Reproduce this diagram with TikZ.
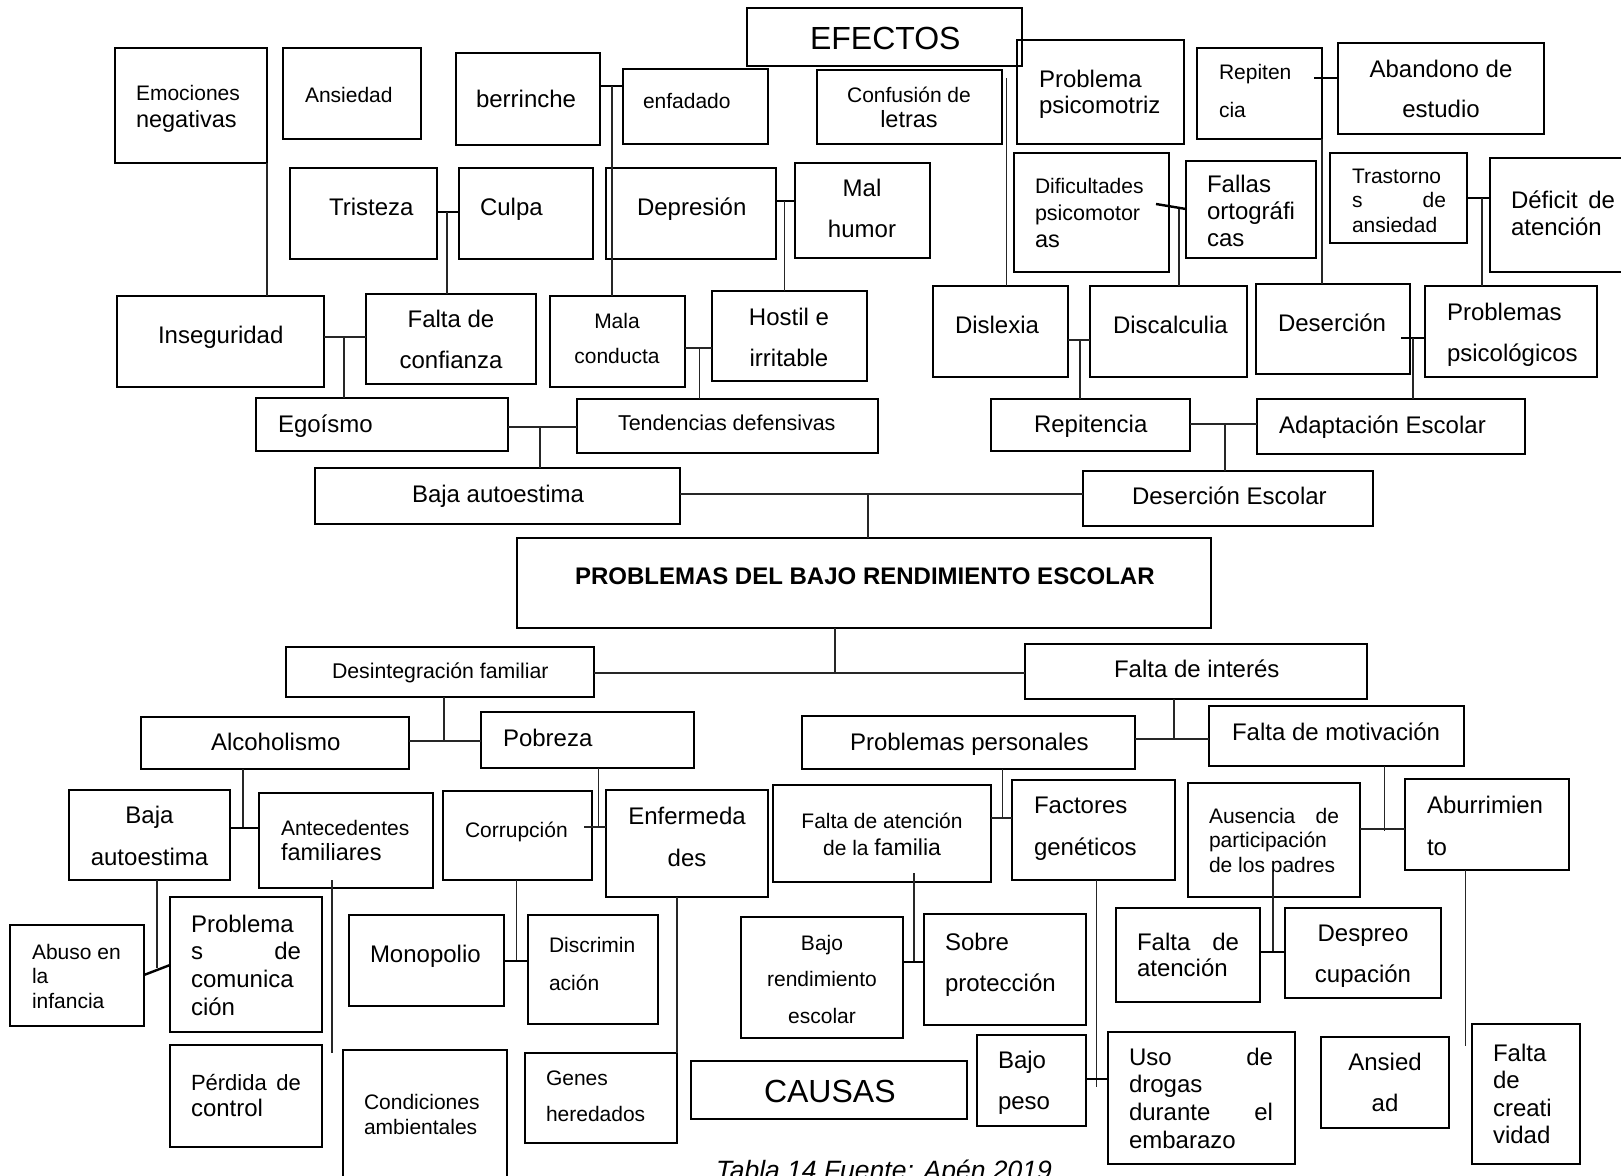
\documentclass[tikz,border=0pt]{standalone}
\usepackage{fontspec}
\setmainfont{Liberation Sans}
\newcommand\fsz[2]{\fontsize{#1}{#2}\selectfont\lineskiplimit=-100pt\relax}
\newcommand\bigln[1]{{\fontsize{23.5}{27}\selectfont #1}}
\newcommand\vlft[1]{\vtop{\halign{##\hfil\cr#1\crcr}}}
\newcommand\vctr[1]{\vtop{\halign{\hfil##\hfil\cr#1\crcr}}}
\newcommand\bxx[5]{\node[box,minimum width={#4-#2},minimum height={#5-#3}] (#1) at ({(#2+#4)/2},{(#3+#5)/2}) {};}
\newcommand\tlft[5]{\node[txt,anchor=base west] (#1) at (#2,#3) {#4\vlft{#5}};}
\newcommand\tctr[5]{\node[txt,anchor=base] (#1) at (#2,#3) {#4\vctr{#5}};}
\begin{document}
\begin{tikzpicture}[x=1pt,y=-1pt,
  box/.style={draw=black,line width=2.2pt,inner sep=0pt,outer sep=0pt},
  txt/.style={inner sep=0pt,outer sep=0pt,text=black},
  ln/.style={line width=1.1pt,draw=black!85},
  lnk/.style={line width=2.4pt,draw=black}]
\fill[white] (0,0) rectangle (1621,1175);
\useasboundingbox (0,0) rectangle (1621,1175);
% ---------- EFECTOS boxes ----------
\bxx{emo}{115}{48}{267}{163}
\bxx{ansA}{283}{48}{421}{139}
\bxx{ber}{456}{53}{600}{145}
\bxx{enf}{623}{69}{768}{144}
\bxx{efe}{747}{8}{1022}{66}
\bxx{con}{817}{70}{1002}{144}
\bxx{ppsi}{1017}{40}{1184}{144}
\bxx{repA}{1197}{48}{1322}{139}
\bxx{aba}{1338}{43}{1544}{134}
\bxx{tri}{290}{168}{437}{259}
\bxx{cul}{459}{168}{593}{259}
\bxx{dep}{606}{168}{776}{259}
\bxx{mhu}{795}{163}{930}{258}
\bxx{dif}{1014}{153}{1169}{272}
\bxx{fal}{1186}{161}{1316}{258}
\bxx{tra}{1330}{153}{1467}{243}
\bxx{def}{1490}{158}{1640}{272}
\bxx{ins}{117}{296}{324}{387}
\bxx{fco}{366}{294}{536}{384}
\bxx{mco}{550}{296}{685}{387}
\bxx{hos}{712}{291}{867}{381}
\bxx{dsx}{933}{286}{1068}{377}
\bxx{dsc}{1090}{286}{1247}{377}
\bxx{desA}{1256}{284}{1410}{374}
\bxx{pps}{1425}{286}{1597}{377}
\bxx{ego}{256}{398}{508}{451}
\bxx{ten}{577}{399}{878}{453}
\bxx{repB}{991}{399}{1190}{451}
\bxx{ada}{1257}{399}{1525}{454}
\bxx{bajA}{315}{468}{680}{524}
\bxx{desE}{1083}{471}{1373}{526}
\bxx{main}{517}{538}{1211}{628}
% ---------- CAUSAS boxes ----------
\bxx{dfa}{286}{647}{594}{697}
\bxx{fin}{1025}{644}{1367}{699}
\bxx{alc}{141}{717}{409}{769}
\bxx{pob}{481}{712}{694}{768}
\bxx{ppe}{802}{716}{1135}{769}
\bxx{fmo}{1209}{706}{1464}{766}
\bxx{bajB}{69}{790}{230}{880}
\bxx{ant}{259}{793}{433}{888}
\bxx{cor}{443}{791}{592}{880}
\bxx{enfm}{606}{790}{768}{897}
\bxx{faf}{773}{785}{991}{882}
\bxx{fge}{1012}{780}{1175}{880}
\bxx{aus}{1188}{783}{1360}{897}
\bxx{abu}{1405}{779}{1569}{870}
\bxx{abi}{10}{925}{144}{1026}
\bxx{pco}{170}{897}{322}{1032}
\bxx{mon}{349}{915}{504}{1006}
\bxx{dis}{528}{915}{658}{1024}
\bxx{bre}{741}{917}{903}{1038}
\bxx{sob}{924}{914}{1086}{1025}
\bxx{fat}{1116}{908}{1260}{1002}
\bxx{dpr}{1285}{908}{1441}{998}
\bxx{pdc}{170}{1045}{322}{1147}
\bxx{cam}{343}{1050}{507}{1210}
\bxx{gen}{525}{1053}{677}{1143}
\bxx{cau}{691}{1061}{967}{1119}
\bxx{bpe}{977}{1035}{1086}{1126}
\bxx{uso}{1108}{1032}{1295}{1164}
\bxx{ansB}{1321}{1037}{1449}{1128}
\bxx{fcr}{1472}{1024}{1580}{1164}
% ---------- texts ----------
\tlft{emo-t}{136}{100}{\fsz{21}{27}}{Emociones\cr \bigln{negativas}}
\tlft{ansA-t}{305}{102}{\fsz{21}{25}}{Ansiedad}
\tlft{ber-t}{476}{107}{\fsz{24}{27}}{berrinche}
\tlft{enf-t}{643}{108}{\fsz{21}{25}}{enfadado}
\tlft{efe-t}{810}{49}{\fsz{32}{36}}{EFECTOS}
\tctr{con-t}{909}{102}{\fsz{21}{25}}{Confusión de\cr \bigln{letras}}
\tlft{ppsi-t}{1039}{87}{\fsz{24}{26}}{Problema\cr psicomotriz}
\tlft{repA-t}{1219}{79}{\fsz{21}{38}}{Repiten\cr cia}
\tctr{aba-t}{1441}{77}{\fsz{24}{40}}{Abandono de\cr estudio}
\tlft{tri-t}{329}{215}{\fsz{24}{27}}{Tristeza}
\tlft{cul-t}{480}{215}{\fsz{24}{27}}{Culpa}
\tlft{dep-t}{637}{215}{\fsz{24}{27}}{Depresión}
\tctr{mhu-t}{862}{196}{\fsz{24}{41}}{Mal\cr humor}
\tlft{dif-t}{1035}{193}{\fsz{21}{27}}{Dificultades\cr {\fontsize{21.5}{27}\selectfont psicomotor}\cr \bigln{as}}
\tlft{fal-t}{1207}{192}{\fsz{24}{27}}{Fallas\cr ortográfi\cr cas}
\tlft{tra-t}{1352}{183}{\fsz{21}{24.5}}{Trastorno\cr\hbox to 94pt{s\hfil de}\cr ansiedad}
\tlft{def-t}{1511}{208}{\fsz{24}{27}}{\hbox to 104pt{Déficit\hfil de}\cr atención}
\tlft{ins-t}{158}{343}{\fsz{24}{27}}{Inseguridad}
\tctr{fco-t}{451}{327}{\fsz{24}{41}}{Falta de\cr confianza}
\tctr{mco-t}{617}{328}{\fsz{21}{35}}{Mala\cr conducta}
\tctr{hos-t}{789}{325}{\fsz{24}{41}}{Hostil e\cr irritable}
\tlft{dsx-t}{955}{333}{\fsz{24}{27}}{Dislexia}
\tlft{dsc-t}{1113}{333}{\fsz{24}{27}}{Discalculia}
\tlft{desA-t}{1278}{331}{\fsz{24}{27}}{Deserción}
\tlft{pps-t}{1447}{320}{\fsz{24}{41}}{Problemas\cr psicológicos}
\tlft{ego-t}{278}{432}{\fsz{24}{27}}{Egoísmo}
\tlft{ten-t}{618}{430}{\fsz{21.5}{25}}{Tendencias defensivas}
\tlft{repB-t}{1034}{432}{\fsz{24}{27}}{Repitencia}
\tlft{ada-t}{1279}{433}{\fsz{24}{27}}{Adaptación Escolar}
\tlft{bajA-t}{412}{502}{\fsz{24}{27}}{Baja autoestima}
\tlft{desE-t}{1132}{504}{\fsz{24}{27}}{Deserción Escolar}
\tlft{main-t}{575}{584}{\fsz{24}{27}\bfseries}{PROBLEMAS DEL BAJO RENDIMIENTO ESCOLAR}
\tlft{dfa-t}{332}{678}{\fsz{21.3}{25}}{Desintegración familiar}
\tlft{fin-t}{1114}{677}{\fsz{24}{27}}{Falta de interés}
\tlft{alc-t}{211}{750}{\fsz{24}{27}}{Alcoholismo}
\tlft{pob-t}{503}{746}{\fsz{24}{27}}{Pobreza}
\tlft{ppe-t}{850}{750}{\fsz{24}{27}}{Problemas personales}
\tlft{fmo-t}{1232}{740}{\fsz{24}{27}}{Falta de motivación}
\tctr{bajB-t}{149.5}{823}{\fsz{24}{42}}{Baja\cr autoestima}
\tlft{ant-t}{281}{835}{\fsz{21}{25}}{Antecedentes\cr \bigln{familiares}}
\tlft{cor-t}{465}{837}{\fsz{21}{25}}{Corrupción}
\tctr{enfm-t}{687}{824}{\fsz{24}{42}}{Enfermeda\cr des}
\tctr{faf-t}{882}{828}{\fsz{21}{27}}{Falta de atención\cr de la {\fontsize{23}{27}\selectfont familia}}
\tlft{fge-t}{1034}{813}{\fsz{24}{42}}{Factores\cr genéticos}
\tlft{aus-t}{1209}{823}{\fsz{21}{24.5}}{\hbox to 130pt{Ausencia\hfil de}\cr participación\cr de los padres}
\tlft{abu-t}{1427}{813}{\fsz{24}{42}}{Aburrimien\cr to}
\tlft{abi-t}{32}{959}{\fsz{21}{24.5}}{Abuso en\cr la\cr infancia}
\tlft{pco-t}{191}{932}{\fsz{24}{27.7}}{Problema\cr\hbox to 110pt{s\hfil de}\cr comunica\cr ción}
\tlft{mon-t}{370}{962}{\fsz{24}{27}}{Monopolio}
\tlft{dis-t}{549}{952}{\fsz{21}{38}}{Discrimin\cr ación}
\tctr{bre-t}{822}{950}{\fsz{21}{36.5}}{Bajo\cr rendimiento\cr escolar}
\tlft{sob-t}{945}{950}{\fsz{24}{41.7}}{Sobre\cr protección}
\tlft{fat-t}{1137}{950}{\fsz{24}{26.7}}{\hbox to 102pt{Falta\hfil de}\cr atención}
\tctr{dpr-t}{1363}{941}{\fsz{24}{41.7}}{Despreo\cr cupación}
\tlft{pdc-t}{191}{1090}{\fsz{22}{26.7}}{\hbox to 110pt{Pérdida\hfil de}\cr {\fontsize{24}{27}\selectfont control}}
\tlft{cam-t}{364}{1109}{\fsz{21}{25}}{Condiciones\cr ambientales}
\tlft{gen-t}{546}{1085}{\fsz{21}{36}}{Genes\cr heredados}
\tlft{cau-t}{764}{1102}{\fsz{32}{36}}{CAUSAS}
\tlft{bpe-t}{998}{1068}{\fsz{24}{41.7}}{Bajo\cr peso}
\tlft{uso-t}{1129}{1065}{\fsz{24}{27.7}}{\hbox to 144pt{Uso\hfil de}\cr drogas\cr\hbox to 144pt{durante\hfil el}\cr embarazo}
\tctr{ansB-t}{1385}{1070}{\fsz{24}{41.7}}{Ansied\cr ad}
\tlft{fcr-t}{1493}{1061}{\fsz{24}{27.5}}{Falta\cr de\cr creati\cr vidad}
\node[txt,anchor=base west] (caption) at (716,1179) {\fontsize{26.5}{30}\selectfont\itshape Tabla 14 Fuente: Apén 2019};
% ---------- junction coordinates ----------
\coordinate (j1) at (447,212);
\coordinate (j2) at (344,337);
\coordinate (j3) at (612,86);
\coordinate (j4) at (784.5,201);
\coordinate (j5) at (699.5,348);
\coordinate (j6) at (540,427);
\coordinate (j7) at (1006.7,78);
\coordinate (j8a) at (1156,204);
\coordinate (j8) at (1179,209);
\coordinate (j9) at (1314,78);
\coordinate (j10) at (1482,198);
\coordinate (j11) at (1080,340);
\coordinate (j12a) at (1401,338);
\coordinate (j12) at (1413,338);
\coordinate (j13) at (1225,424);
\coordinate (j14) at (868,494);
\coordinate (j15) at (835,673);
\coordinate (j16) at (444,741);
\coordinate (j17) at (1174,739);
\coordinate (j18) at (243,828);
\coordinate (j19) at (598.5,827);
\coordinate (j19a) at (584,827);
\coordinate (j20) at (157,968);
\coordinate (j21a) at (332,880);
\coordinate (j21) at (332,1053);
\coordinate (j22) at (516.6,961);
\coordinate (j23) at (1002.5,818);
\coordinate (j24a) at (914,873);
\coordinate (j24) at (914,962);
\coordinate (j25) at (1384.6,831);
\coordinate (j26a) at (1273,872);
\coordinate (j26) at (1273,952);
\coordinate (j27) at (1096.6,1087);
\coordinate (j28) at (1465.7,1046);
% ---------- connectors (effects) ----------
\draw[ln] (emo.south east) -- (emo.south east |- ins.north);
\draw[lnk] (tri.east |- j1) -- (cul.west |- j1);
\draw[ln] (j1) -- (j1 |- fco.north);
\draw[ln] (ins.east |- j2) -- (fco.west |- j2);
\draw[ln] (j2) -- (j2 |- ego.north);
\draw[lnk] (ber.east |- j3) -- (enf.west |- j3);
\draw[ln] (j3) -- (j3 |- mco.north);
\draw[lnk] (dep.east |- j4) -- (mhu.west |- j4);
\draw[ln] (j4) -- (j4 |- hos.north);
\draw[ln] (mco.east |- j5) -- (hos.west |- j5);
\draw[ln] (j5) -- (j5 |- ten.north);
\draw[ln] (ego.east |- j6) -- (ten.west |- j6);
\draw[ln] (j6) -- (j6 |- bajA.north);
\draw[ln] (j7) -- (j7 |- dsx.north);
\draw[lnk] (j8a) -- (fal.west |- j8);
\draw[ln] (j8) -- (j8 |- dsc.north);
\draw[lnk] (j9) -- (aba.west |- j9);
\draw[ln] (repA.south east) -- (repA.south east |- desA.north);
\draw[lnk] (tra.east |- j10) -- (def.west |- j10);
\draw[ln] (j10) -- (j10 |- pps.north);
\draw[ln] (dsx.east |- j11) -- (dsc.west |- j11);
\draw[ln] (j11) -- (j11 |- repB.north);
\draw[lnk] (j12a) -- (pps.west |- j12);
\draw[ln] (j12) -- (j12 |- ada.north);
\draw[ln] (repB.east |- j13) -- (ada.west |- j13);
\draw[ln] (j13) -- (j13 |- desE.north);
\draw[ln] (bajA.east |- j14) -- (desE.west |- j14);
\draw[ln] (j14) -- (j14 |- main.north);
% ---------- connectors (causes) ----------
\draw[ln] (main.south -| j15) -- (j15);
\draw[ln] (dfa.east |- j15) -- (fin.west |- j15);
\draw[ln] (dfa.south -| j16) -- (j16);
\draw[ln] (alc.east |- j16) -- (pob.west |- j16);
\draw[ln] (fin.south -| j17) -- (j17);
\draw[ln] (ppe.east |- j17) -- (fmo.west |- j17);
\draw[ln] (alc.south -| j18) -- (j18);
\draw[lnk] (bajB.east |- j18) -- (ant.west |- j18);
\draw[ln] (pob.south -| j19) -- (j19);
\draw[ln] (j19a) -- (enfm.west |- j19a);
\draw[ln] (bajB.south -| j20) -- (j20);
\draw[lnk] (abi.east |- 0,975) -- (pco.west |- 0,965);
\draw[ln] (j21a) -- (j21);
\draw[ln] (cor.south -| j22) -- (j22);
\draw[lnk] (mon.east |- j22) -- (dis.west |- j22);
\draw[ln] (enfm.south -| gen.north east) -- (gen.north east);
\draw[ln] (ppe.south -| j23) -- (j23);
\draw[ln] (faf.east |- j23) -- (fge.west |- j23);
\draw[ln] (j24a) -- (j24);
\draw[lnk] (bre.east |- j24) -- (sob.west |- j24);
\draw[ln] (fmo.south -| j25) -- (j25);
\draw[ln] (aus.east |- 0,829) -- (abu.west |- 0,829);
\draw[ln] (j26a) -- (j26);
\draw[lnk] (fat.east |- j26) -- (dpr.west |- j26);
\draw[ln] (fge.south -| j27) -- (j27);
\draw[lnk] (bpe.east |- 0,1079) -- (uso.west |- 0,1079);
\draw[ln] (abu.south -| j28) -- (j28);
\end{tikzpicture}
\end{document}
